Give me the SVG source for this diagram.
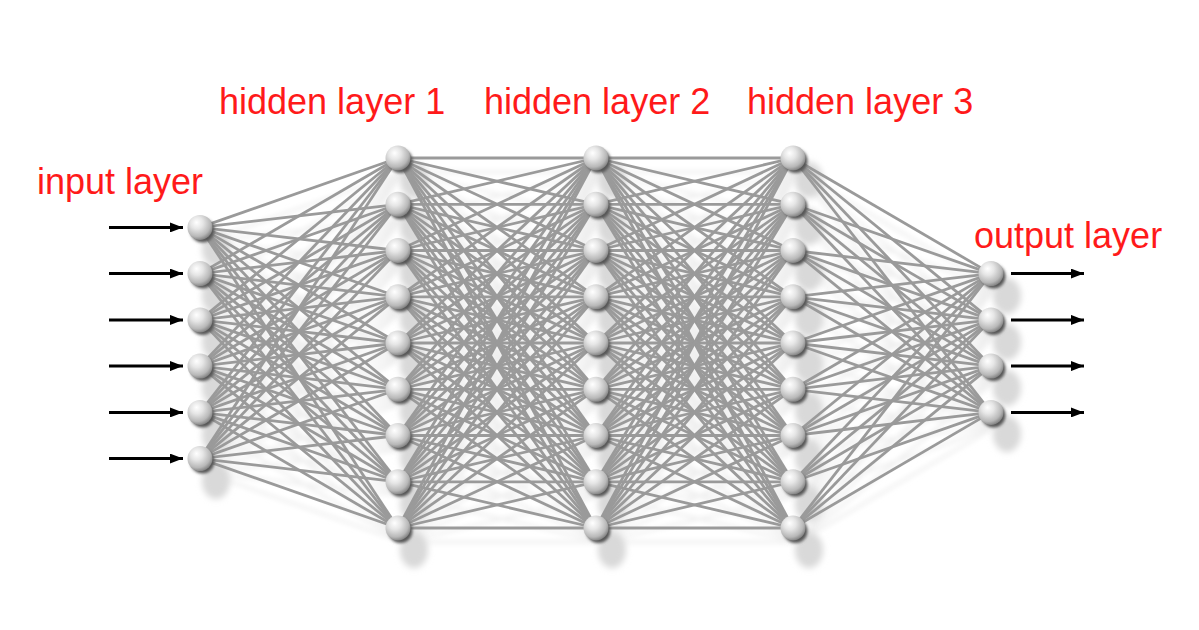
<svg xmlns="http://www.w3.org/2000/svg" xmlns:xlink="http://www.w3.org/1999/xlink" width="1199" height="630" viewBox="0 0 1199 630">
<style>
.lbl{font-family:"Liberation Sans",Arial,sans-serif;font-size:36px;fill:#ff1a1a}
.c line{stroke:#9a9a9a;stroke-width:2.8}
.n{fill:url(#ball)}
.arr{stroke:#000;stroke-width:3;marker-end:url(#ah)}
</style>
<defs>
<radialGradient id="ball" cx="0.4" cy="0.35" r="0.7" fx="0.36" fy="0.3">
<stop offset="0" stop-color="#ffffff"/>
<stop offset="0.35" stop-color="#e6e6e6"/>
<stop offset="0.75" stop-color="#b8b8b8"/>
<stop offset="1" stop-color="#777777"/>
</radialGradient>
<filter id="sh" x="-10%" y="-10%" width="120%" height="120%">
<feColorMatrix in="SourceGraphic" type="matrix" values="0 0 0 0 0.86 0 0 0 0 0.86 0 0 0 0 0.86 0 0 0 1 0"/>
<feGaussianBlur stdDeviation="2.5"/>
</filter>
<filter id="nsh" x="-50%" y="-50%" width="200%" height="200%">
<feGaussianBlur stdDeviation="3"/>
</filter>
<filter id="dk" x="-50%" y="-50%" width="200%" height="200%">
<feGaussianBlur stdDeviation="1.5"/>
</filter>
<marker id="ah" viewBox="0 0 13 10" refX="13" refY="5" markerWidth="13" markerHeight="10" markerUnits="userSpaceOnUse" orient="auto">
<path d="M0,0 L13,5 L0,10 Z" fill="#000"/>
</marker>
<g id="node">
<circle cx="2.5" cy="3" r="12" fill="#555" filter="url(#dk)"/>
<circle cx="0" cy="0" r="12.5" class="n"/>
</g>
</defs>
<rect width="1199" height="630" fill="#fff"/>

<g id="shadow">
<use xlink:href="#connectors" href="#connectors" transform="translate(5,14)" filter="url(#sh)"/>
<g fill="#d9d9d9" filter="url(#nsh)">
<ellipse cx="216" cy="249" rx="14" ry="18"/><ellipse cx="216" cy="296" rx="14" ry="18"/><ellipse cx="216" cy="342" rx="14" ry="18"/><ellipse cx="216" cy="388" rx="14" ry="18"/><ellipse cx="216" cy="435" rx="14" ry="18"/><ellipse cx="216" cy="481" rx="14" ry="18"/>
<ellipse cx="414" cy="180" rx="14" ry="18"/><ellipse cx="414" cy="227" rx="14" ry="18"/><ellipse cx="414" cy="273" rx="14" ry="18"/><ellipse cx="414" cy="319" rx="14" ry="18"/><ellipse cx="414" cy="365" rx="14" ry="18"/><ellipse cx="414" cy="411" rx="14" ry="18"/><ellipse cx="414" cy="458" rx="14" ry="18"/><ellipse cx="414" cy="504" rx="14" ry="18"/><ellipse cx="414" cy="550" rx="14" ry="18"/>
<ellipse cx="612" cy="180" rx="14" ry="18"/><ellipse cx="612" cy="227" rx="14" ry="18"/><ellipse cx="612" cy="273" rx="14" ry="18"/><ellipse cx="612" cy="319" rx="14" ry="18"/><ellipse cx="612" cy="365" rx="14" ry="18"/><ellipse cx="612" cy="411" rx="14" ry="18"/><ellipse cx="612" cy="458" rx="14" ry="18"/><ellipse cx="612" cy="504" rx="14" ry="18"/><ellipse cx="612" cy="550" rx="14" ry="18"/>
<ellipse cx="809" cy="180" rx="14" ry="18"/><ellipse cx="809" cy="227" rx="14" ry="18"/><ellipse cx="809" cy="273" rx="14" ry="18"/><ellipse cx="809" cy="319" rx="14" ry="18"/><ellipse cx="809" cy="365" rx="14" ry="18"/><ellipse cx="809" cy="411" rx="14" ry="18"/><ellipse cx="809" cy="458" rx="14" ry="18"/><ellipse cx="809" cy="504" rx="14" ry="18"/><ellipse cx="809" cy="550" rx="14" ry="18"/>
<ellipse cx="1007" cy="296" rx="14" ry="18"/><ellipse cx="1007" cy="342" rx="14" ry="18"/><ellipse cx="1007" cy="388" rx="14" ry="18"/><ellipse cx="1007" cy="434" rx="14" ry="18"/>
</g>
</g>

<g id="connectors" class="c">
<!-- input -> hidden1 -->
<line x1="200" y1="227.4" x2="398" y2="158"/><line x1="200" y1="227.4" x2="398" y2="204.3"/><line x1="200" y1="227.4" x2="398" y2="250.5"/><line x1="200" y1="227.4" x2="398" y2="296.8"/><line x1="200" y1="227.4" x2="398" y2="343"/><line x1="200" y1="227.4" x2="398" y2="389.3"/><line x1="200" y1="227.4" x2="398" y2="435.5"/><line x1="200" y1="227.4" x2="398" y2="481.8"/><line x1="200" y1="227.4" x2="398" y2="528"/>
<line x1="200" y1="273.6" x2="398" y2="158"/><line x1="200" y1="273.6" x2="398" y2="204.3"/><line x1="200" y1="273.6" x2="398" y2="250.5"/><line x1="200" y1="273.6" x2="398" y2="296.8"/><line x1="200" y1="273.6" x2="398" y2="343"/><line x1="200" y1="273.6" x2="398" y2="389.3"/><line x1="200" y1="273.6" x2="398" y2="435.5"/><line x1="200" y1="273.6" x2="398" y2="481.8"/><line x1="200" y1="273.6" x2="398" y2="528"/>
<line x1="200" y1="319.9" x2="398" y2="158"/><line x1="200" y1="319.9" x2="398" y2="204.3"/><line x1="200" y1="319.9" x2="398" y2="250.5"/><line x1="200" y1="319.9" x2="398" y2="296.8"/><line x1="200" y1="319.9" x2="398" y2="343"/><line x1="200" y1="319.9" x2="398" y2="389.3"/><line x1="200" y1="319.9" x2="398" y2="435.5"/><line x1="200" y1="319.9" x2="398" y2="481.8"/><line x1="200" y1="319.9" x2="398" y2="528"/>
<line x1="200" y1="366.1" x2="398" y2="158"/><line x1="200" y1="366.1" x2="398" y2="204.3"/><line x1="200" y1="366.1" x2="398" y2="250.5"/><line x1="200" y1="366.1" x2="398" y2="296.8"/><line x1="200" y1="366.1" x2="398" y2="343"/><line x1="200" y1="366.1" x2="398" y2="389.3"/><line x1="200" y1="366.1" x2="398" y2="435.5"/><line x1="200" y1="366.1" x2="398" y2="481.8"/><line x1="200" y1="366.1" x2="398" y2="528"/>
<line x1="200" y1="412.4" x2="398" y2="158"/><line x1="200" y1="412.4" x2="398" y2="204.3"/><line x1="200" y1="412.4" x2="398" y2="250.5"/><line x1="200" y1="412.4" x2="398" y2="296.8"/><line x1="200" y1="412.4" x2="398" y2="343"/><line x1="200" y1="412.4" x2="398" y2="389.3"/><line x1="200" y1="412.4" x2="398" y2="435.5"/><line x1="200" y1="412.4" x2="398" y2="481.8"/><line x1="200" y1="412.4" x2="398" y2="528"/>
<line x1="200" y1="458.6" x2="398" y2="158"/><line x1="200" y1="458.6" x2="398" y2="204.3"/><line x1="200" y1="458.6" x2="398" y2="250.5"/><line x1="200" y1="458.6" x2="398" y2="296.8"/><line x1="200" y1="458.6" x2="398" y2="343"/><line x1="200" y1="458.6" x2="398" y2="389.3"/><line x1="200" y1="458.6" x2="398" y2="435.5"/><line x1="200" y1="458.6" x2="398" y2="481.8"/><line x1="200" y1="458.6" x2="398" y2="528"/>
<!-- hidden1 -> hidden2 -->
<line x1="398" y1="158" x2="596" y2="158"/><line x1="398" y1="158" x2="596" y2="204.3"/><line x1="398" y1="158" x2="596" y2="250.5"/><line x1="398" y1="158" x2="596" y2="296.8"/><line x1="398" y1="158" x2="596" y2="343"/><line x1="398" y1="158" x2="596" y2="389.3"/><line x1="398" y1="158" x2="596" y2="435.5"/><line x1="398" y1="158" x2="596" y2="481.8"/><line x1="398" y1="158" x2="596" y2="528"/>
<line x1="398" y1="204.3" x2="596" y2="158"/><line x1="398" y1="204.3" x2="596" y2="204.3"/><line x1="398" y1="204.3" x2="596" y2="250.5"/><line x1="398" y1="204.3" x2="596" y2="296.8"/><line x1="398" y1="204.3" x2="596" y2="343"/><line x1="398" y1="204.3" x2="596" y2="389.3"/><line x1="398" y1="204.3" x2="596" y2="435.5"/><line x1="398" y1="204.3" x2="596" y2="481.8"/><line x1="398" y1="204.3" x2="596" y2="528"/>
<line x1="398" y1="250.5" x2="596" y2="158"/><line x1="398" y1="250.5" x2="596" y2="204.3"/><line x1="398" y1="250.5" x2="596" y2="250.5"/><line x1="398" y1="250.5" x2="596" y2="296.8"/><line x1="398" y1="250.5" x2="596" y2="343"/><line x1="398" y1="250.5" x2="596" y2="389.3"/><line x1="398" y1="250.5" x2="596" y2="435.5"/><line x1="398" y1="250.5" x2="596" y2="481.8"/><line x1="398" y1="250.5" x2="596" y2="528"/>
<line x1="398" y1="296.8" x2="596" y2="158"/><line x1="398" y1="296.8" x2="596" y2="204.3"/><line x1="398" y1="296.8" x2="596" y2="250.5"/><line x1="398" y1="296.8" x2="596" y2="296.8"/><line x1="398" y1="296.8" x2="596" y2="343"/><line x1="398" y1="296.8" x2="596" y2="389.3"/><line x1="398" y1="296.8" x2="596" y2="435.5"/><line x1="398" y1="296.8" x2="596" y2="481.8"/><line x1="398" y1="296.8" x2="596" y2="528"/>
<line x1="398" y1="343" x2="596" y2="158"/><line x1="398" y1="343" x2="596" y2="204.3"/><line x1="398" y1="343" x2="596" y2="250.5"/><line x1="398" y1="343" x2="596" y2="296.8"/><line x1="398" y1="343" x2="596" y2="343"/><line x1="398" y1="343" x2="596" y2="389.3"/><line x1="398" y1="343" x2="596" y2="435.5"/><line x1="398" y1="343" x2="596" y2="481.8"/><line x1="398" y1="343" x2="596" y2="528"/>
<line x1="398" y1="389.3" x2="596" y2="158"/><line x1="398" y1="389.3" x2="596" y2="204.3"/><line x1="398" y1="389.3" x2="596" y2="250.5"/><line x1="398" y1="389.3" x2="596" y2="296.8"/><line x1="398" y1="389.3" x2="596" y2="343"/><line x1="398" y1="389.3" x2="596" y2="389.3"/><line x1="398" y1="389.3" x2="596" y2="435.5"/><line x1="398" y1="389.3" x2="596" y2="481.8"/><line x1="398" y1="389.3" x2="596" y2="528"/>
<line x1="398" y1="435.5" x2="596" y2="158"/><line x1="398" y1="435.5" x2="596" y2="204.3"/><line x1="398" y1="435.5" x2="596" y2="250.5"/><line x1="398" y1="435.5" x2="596" y2="296.8"/><line x1="398" y1="435.5" x2="596" y2="343"/><line x1="398" y1="435.5" x2="596" y2="389.3"/><line x1="398" y1="435.5" x2="596" y2="435.5"/><line x1="398" y1="435.5" x2="596" y2="481.8"/><line x1="398" y1="435.5" x2="596" y2="528"/>
<line x1="398" y1="481.8" x2="596" y2="158"/><line x1="398" y1="481.8" x2="596" y2="204.3"/><line x1="398" y1="481.8" x2="596" y2="250.5"/><line x1="398" y1="481.8" x2="596" y2="296.8"/><line x1="398" y1="481.8" x2="596" y2="343"/><line x1="398" y1="481.8" x2="596" y2="389.3"/><line x1="398" y1="481.8" x2="596" y2="435.5"/><line x1="398" y1="481.8" x2="596" y2="481.8"/><line x1="398" y1="481.8" x2="596" y2="528"/>
<line x1="398" y1="528" x2="596" y2="158"/><line x1="398" y1="528" x2="596" y2="204.3"/><line x1="398" y1="528" x2="596" y2="250.5"/><line x1="398" y1="528" x2="596" y2="296.8"/><line x1="398" y1="528" x2="596" y2="343"/><line x1="398" y1="528" x2="596" y2="389.3"/><line x1="398" y1="528" x2="596" y2="435.5"/><line x1="398" y1="528" x2="596" y2="481.8"/><line x1="398" y1="528" x2="596" y2="528"/>
<!-- hidden2 -> hidden3 -->
<line x1="596" y1="158" x2="793" y2="158"/><line x1="596" y1="158" x2="793" y2="204.3"/><line x1="596" y1="158" x2="793" y2="250.5"/><line x1="596" y1="158" x2="793" y2="296.8"/><line x1="596" y1="158" x2="793" y2="343"/><line x1="596" y1="158" x2="793" y2="389.3"/><line x1="596" y1="158" x2="793" y2="435.5"/><line x1="596" y1="158" x2="793" y2="481.8"/><line x1="596" y1="158" x2="793" y2="528"/>
<line x1="596" y1="204.3" x2="793" y2="158"/><line x1="596" y1="204.3" x2="793" y2="204.3"/><line x1="596" y1="204.3" x2="793" y2="250.5"/><line x1="596" y1="204.3" x2="793" y2="296.8"/><line x1="596" y1="204.3" x2="793" y2="343"/><line x1="596" y1="204.3" x2="793" y2="389.3"/><line x1="596" y1="204.3" x2="793" y2="435.5"/><line x1="596" y1="204.3" x2="793" y2="481.8"/><line x1="596" y1="204.3" x2="793" y2="528"/>
<line x1="596" y1="250.5" x2="793" y2="158"/><line x1="596" y1="250.5" x2="793" y2="204.3"/><line x1="596" y1="250.5" x2="793" y2="250.5"/><line x1="596" y1="250.5" x2="793" y2="296.8"/><line x1="596" y1="250.5" x2="793" y2="343"/><line x1="596" y1="250.5" x2="793" y2="389.3"/><line x1="596" y1="250.5" x2="793" y2="435.5"/><line x1="596" y1="250.5" x2="793" y2="481.8"/><line x1="596" y1="250.5" x2="793" y2="528"/>
<line x1="596" y1="296.8" x2="793" y2="158"/><line x1="596" y1="296.8" x2="793" y2="204.3"/><line x1="596" y1="296.8" x2="793" y2="250.5"/><line x1="596" y1="296.8" x2="793" y2="296.8"/><line x1="596" y1="296.8" x2="793" y2="343"/><line x1="596" y1="296.8" x2="793" y2="389.3"/><line x1="596" y1="296.8" x2="793" y2="435.5"/><line x1="596" y1="296.8" x2="793" y2="481.8"/><line x1="596" y1="296.8" x2="793" y2="528"/>
<line x1="596" y1="343" x2="793" y2="158"/><line x1="596" y1="343" x2="793" y2="204.3"/><line x1="596" y1="343" x2="793" y2="250.5"/><line x1="596" y1="343" x2="793" y2="296.8"/><line x1="596" y1="343" x2="793" y2="343"/><line x1="596" y1="343" x2="793" y2="389.3"/><line x1="596" y1="343" x2="793" y2="435.5"/><line x1="596" y1="343" x2="793" y2="481.8"/><line x1="596" y1="343" x2="793" y2="528"/>
<line x1="596" y1="389.3" x2="793" y2="158"/><line x1="596" y1="389.3" x2="793" y2="204.3"/><line x1="596" y1="389.3" x2="793" y2="250.5"/><line x1="596" y1="389.3" x2="793" y2="296.8"/><line x1="596" y1="389.3" x2="793" y2="343"/><line x1="596" y1="389.3" x2="793" y2="389.3"/><line x1="596" y1="389.3" x2="793" y2="435.5"/><line x1="596" y1="389.3" x2="793" y2="481.8"/><line x1="596" y1="389.3" x2="793" y2="528"/>
<line x1="596" y1="435.5" x2="793" y2="158"/><line x1="596" y1="435.5" x2="793" y2="204.3"/><line x1="596" y1="435.5" x2="793" y2="250.5"/><line x1="596" y1="435.5" x2="793" y2="296.8"/><line x1="596" y1="435.5" x2="793" y2="343"/><line x1="596" y1="435.5" x2="793" y2="389.3"/><line x1="596" y1="435.5" x2="793" y2="435.5"/><line x1="596" y1="435.5" x2="793" y2="481.8"/><line x1="596" y1="435.5" x2="793" y2="528"/>
<line x1="596" y1="481.8" x2="793" y2="158"/><line x1="596" y1="481.8" x2="793" y2="204.3"/><line x1="596" y1="481.8" x2="793" y2="250.5"/><line x1="596" y1="481.8" x2="793" y2="296.8"/><line x1="596" y1="481.8" x2="793" y2="343"/><line x1="596" y1="481.8" x2="793" y2="389.3"/><line x1="596" y1="481.8" x2="793" y2="435.5"/><line x1="596" y1="481.8" x2="793" y2="481.8"/><line x1="596" y1="481.8" x2="793" y2="528"/>
<line x1="596" y1="528" x2="793" y2="158"/><line x1="596" y1="528" x2="793" y2="204.3"/><line x1="596" y1="528" x2="793" y2="250.5"/><line x1="596" y1="528" x2="793" y2="296.8"/><line x1="596" y1="528" x2="793" y2="343"/><line x1="596" y1="528" x2="793" y2="389.3"/><line x1="596" y1="528" x2="793" y2="435.5"/><line x1="596" y1="528" x2="793" y2="481.8"/><line x1="596" y1="528" x2="793" y2="528"/>
<!-- hidden3 -> output -->
<line x1="793" y1="158" x2="991" y2="273.6"/><line x1="793" y1="158" x2="991" y2="319.9"/><line x1="793" y1="158" x2="991" y2="366.1"/><line x1="793" y1="158" x2="991" y2="412.4"/>
<line x1="793" y1="204.3" x2="991" y2="273.6"/><line x1="793" y1="204.3" x2="991" y2="319.9"/><line x1="793" y1="204.3" x2="991" y2="366.1"/><line x1="793" y1="204.3" x2="991" y2="412.4"/>
<line x1="793" y1="250.5" x2="991" y2="273.6"/><line x1="793" y1="250.5" x2="991" y2="319.9"/><line x1="793" y1="250.5" x2="991" y2="366.1"/><line x1="793" y1="250.5" x2="991" y2="412.4"/>
<line x1="793" y1="296.8" x2="991" y2="273.6"/><line x1="793" y1="296.8" x2="991" y2="319.9"/><line x1="793" y1="296.8" x2="991" y2="366.1"/><line x1="793" y1="296.8" x2="991" y2="412.4"/>
<line x1="793" y1="343" x2="991" y2="273.6"/><line x1="793" y1="343" x2="991" y2="319.9"/><line x1="793" y1="343" x2="991" y2="366.1"/><line x1="793" y1="343" x2="991" y2="412.4"/>
<line x1="793" y1="389.3" x2="991" y2="273.6"/><line x1="793" y1="389.3" x2="991" y2="319.9"/><line x1="793" y1="389.3" x2="991" y2="366.1"/><line x1="793" y1="389.3" x2="991" y2="412.4"/>
<line x1="793" y1="435.5" x2="991" y2="273.6"/><line x1="793" y1="435.5" x2="991" y2="319.9"/><line x1="793" y1="435.5" x2="991" y2="366.1"/><line x1="793" y1="435.5" x2="991" y2="412.4"/>
<line x1="793" y1="481.8" x2="991" y2="273.6"/><line x1="793" y1="481.8" x2="991" y2="319.9"/><line x1="793" y1="481.8" x2="991" y2="366.1"/><line x1="793" y1="481.8" x2="991" y2="412.4"/>
<line x1="793" y1="528" x2="991" y2="273.6"/><line x1="793" y1="528" x2="991" y2="319.9"/><line x1="793" y1="528" x2="991" y2="366.1"/><line x1="793" y1="528" x2="991" y2="412.4"/>
</g>

<g id="arrows">
<line class="arr" x1="109" y1="227.4" x2="183" y2="227.4"/>
<line class="arr" x1="109" y1="273.6" x2="183" y2="273.6"/>
<line class="arr" x1="109" y1="319.9" x2="183" y2="319.9"/>
<line class="arr" x1="109" y1="366.1" x2="183" y2="366.1"/>
<line class="arr" x1="109" y1="412.4" x2="183" y2="412.4"/>
<line class="arr" x1="109" y1="458.6" x2="183" y2="458.6"/>
<line class="arr" x1="1011" y1="273.6" x2="1084" y2="273.6"/>
<line class="arr" x1="1011" y1="319.9" x2="1084" y2="319.9"/>
<line class="arr" x1="1011" y1="366.1" x2="1084" y2="366.1"/>
<line class="arr" x1="1011" y1="412.4" x2="1084" y2="412.4"/>
</g>

<g id="input-layer">
<use id="in1" href="#node" xlink:href="#node" x="200" y="227.4"/>
<use id="in2" href="#node" xlink:href="#node" x="200" y="273.6"/>
<use id="in3" href="#node" xlink:href="#node" x="200" y="319.9"/>
<use id="in4" href="#node" xlink:href="#node" x="200" y="366.1"/>
<use id="in5" href="#node" xlink:href="#node" x="200" y="412.4"/>
<use id="in6" href="#node" xlink:href="#node" x="200" y="458.6"/>
</g>
<g id="hidden-layer-1">
<use id="h1n1" href="#node" xlink:href="#node" x="398" y="158"/>
<use id="h1n2" href="#node" xlink:href="#node" x="398" y="204.3"/>
<use id="h1n3" href="#node" xlink:href="#node" x="398" y="250.5"/>
<use id="h1n4" href="#node" xlink:href="#node" x="398" y="296.8"/>
<use id="h1n5" href="#node" xlink:href="#node" x="398" y="343"/>
<use id="h1n6" href="#node" xlink:href="#node" x="398" y="389.3"/>
<use id="h1n7" href="#node" xlink:href="#node" x="398" y="435.5"/>
<use id="h1n8" href="#node" xlink:href="#node" x="398" y="481.8"/>
<use id="h1n9" href="#node" xlink:href="#node" x="398" y="528"/>
</g>
<g id="hidden-layer-2">
<use id="h2n1" href="#node" xlink:href="#node" x="596" y="158"/>
<use id="h2n2" href="#node" xlink:href="#node" x="596" y="204.3"/>
<use id="h2n3" href="#node" xlink:href="#node" x="596" y="250.5"/>
<use id="h2n4" href="#node" xlink:href="#node" x="596" y="296.8"/>
<use id="h2n5" href="#node" xlink:href="#node" x="596" y="343"/>
<use id="h2n6" href="#node" xlink:href="#node" x="596" y="389.3"/>
<use id="h2n7" href="#node" xlink:href="#node" x="596" y="435.5"/>
<use id="h2n8" href="#node" xlink:href="#node" x="596" y="481.8"/>
<use id="h2n9" href="#node" xlink:href="#node" x="596" y="528"/>
</g>
<g id="hidden-layer-3">
<use id="h3n1" href="#node" xlink:href="#node" x="793" y="158"/>
<use id="h3n2" href="#node" xlink:href="#node" x="793" y="204.3"/>
<use id="h3n3" href="#node" xlink:href="#node" x="793" y="250.5"/>
<use id="h3n4" href="#node" xlink:href="#node" x="793" y="296.8"/>
<use id="h3n5" href="#node" xlink:href="#node" x="793" y="343"/>
<use id="h3n6" href="#node" xlink:href="#node" x="793" y="389.3"/>
<use id="h3n7" href="#node" xlink:href="#node" x="793" y="435.5"/>
<use id="h3n8" href="#node" xlink:href="#node" x="793" y="481.8"/>
<use id="h3n9" href="#node" xlink:href="#node" x="793" y="528"/>
</g>
<g id="output-layer">
<use id="out1" href="#node" xlink:href="#node" x="991" y="273.6"/>
<use id="out2" href="#node" xlink:href="#node" x="991" y="319.9"/>
<use id="out3" href="#node" xlink:href="#node" x="991" y="366.1"/>
<use id="out4" href="#node" xlink:href="#node" x="991" y="412.4"/>
</g>

<g id="labels">
<text class="lbl" x="37" y="194">input layer</text>
<text class="lbl" x="219" y="114">hidden layer 1</text>
<text class="lbl" x="484" y="114">hidden layer 2</text>
<text class="lbl" x="747" y="114">hidden layer 3</text>
<text class="lbl" x="974" y="248">output layer</text>
</g>
</svg>
